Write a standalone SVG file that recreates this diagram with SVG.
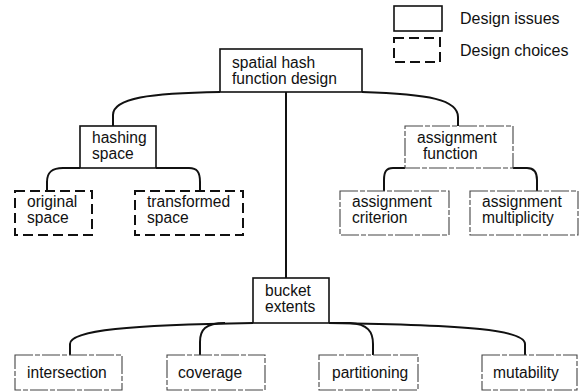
<svg xmlns="http://www.w3.org/2000/svg" width="584" height="392" viewBox="0 0 584 392">
  <style>
    text { font-family: "Liberation Sans", Arial, sans-serif; font-size: 15.6px; fill: #111; }
    .legend { font-size: 16px; }
    .issue { fill: #fff; stroke: #111; stroke-width: 1.6; }
    .choice { fill: #fff; stroke: #111; stroke-width: 2; stroke-dasharray: 10 5; }
    .faint { fill: #fff; stroke: #444; stroke-width: 1.1; stroke-dasharray: 18 2 5 2; }
    .link { fill: none; stroke: #111; stroke-width: 2; }
  </style>

  <!-- legend -->
  <g id="legend">
    <rect class="issue" x="394" y="6" width="48" height="25"/>
    <text class="legend" x="460" y="24">Design issues</text>
    <rect class="choice" x="394" y="38" width="46" height="24"/>
    <text class="legend" x="460" y="56">Design choices</text>
  </g>

  <!-- connectors -->
  <g id="connectors">
    <path class="link" d="M220,92 C150,93 113,98 113,115 L113,126"/>
    <path class="link" d="M362,92 C430,94 458,100 458,117 L458,126"/>
    <path class="link" d="M286,92 L286,278"/>
    <path class="link" d="M80,168 L63,168 C52,168 47,172 47,182 L47,191"/>
    <path class="link" d="M156,168 L189,168 C197,168 200,172 200,182 L200,191"/>
    <path class="link" d="M405,168 L393,168 C386,168 384,172 384,180 L384,191"/>
    <path class="link" d="M513,168 L527,168 C534,168 537,172 537,180 L537,191"/>
    <path class="link" d="M253,323 C130,325 70,330 70,344 L70,355"/>
    <path class="link" d="M225,323 C205,323 200,330 200,342 L200,355"/>
    <path class="link" d="M329,323 L350,323 C368,324 373,332 373,344 L373,355"/>
    <path class="link" d="M329,323 C470,325 525,330 525,344 L525,355"/>
  </g>

  <!-- design issues -->
  <g id="spatial-hash-function-design">
    <rect class="issue" x="220" y="49" width="142" height="43"/>
    <text x="232" y="68">spatial hash</text>
    <text x="232" y="84">function design</text>
  </g>
  <g id="hashing-space">
    <rect class="issue" x="80" y="126" width="76" height="42"/>
    <text x="92" y="143">hashing</text>
    <text x="92" y="159">space</text>
  </g>
  <g id="assignment-function">
    <rect class="faint" x="405" y="126" width="108" height="42"/>
    <text x="417" y="143">assignment</text>
    <text x="423" y="159">function</text>
  </g>
  <g id="bucket-extents">
    <rect class="issue" x="253" y="278" width="76" height="45"/>
    <text x="265" y="296">bucket</text>
    <text x="265" y="312">extents</text>
  </g>

  <!-- design choices -->
  <g id="original-space">
    <rect class="choice" x="15" y="191" width="77" height="44"/>
    <text x="27" y="207">original</text>
    <text x="27" y="223">space</text>
  </g>
  <g id="transformed-space">
    <rect class="choice" x="135" y="191" width="108" height="44"/>
    <text x="147" y="207">transformed</text>
    <text x="147" y="223">space</text>
  </g>
  <g id="assignment-criterion">
    <rect class="faint" x="340" y="191" width="109" height="44"/>
    <text x="352" y="207">assignment</text>
    <text x="352" y="223">criterion</text>
  </g>
  <g id="assignment-multiplicity">
    <rect class="faint" x="470" y="191" width="108" height="44"/>
    <text x="482" y="207">assignment</text>
    <text x="482" y="223">multiplicity</text>
  </g>
  <g id="intersection">
    <rect class="faint" x="15" y="355" width="107" height="35"/>
    <text x="27" y="378">intersection</text>
  </g>
  <g id="coverage">
    <rect class="faint" x="167" y="355" width="98" height="35"/>
    <text x="178" y="378">coverage</text>
  </g>
  <g id="partitioning">
    <rect class="faint" x="319" y="355" width="99" height="35"/>
    <text x="332" y="378">partitioning</text>
  </g>
  <g id="mutability">
    <rect class="faint" x="482" y="355" width="95" height="35"/>
    <text x="493" y="378">mutability</text>
  </g>
</svg>
